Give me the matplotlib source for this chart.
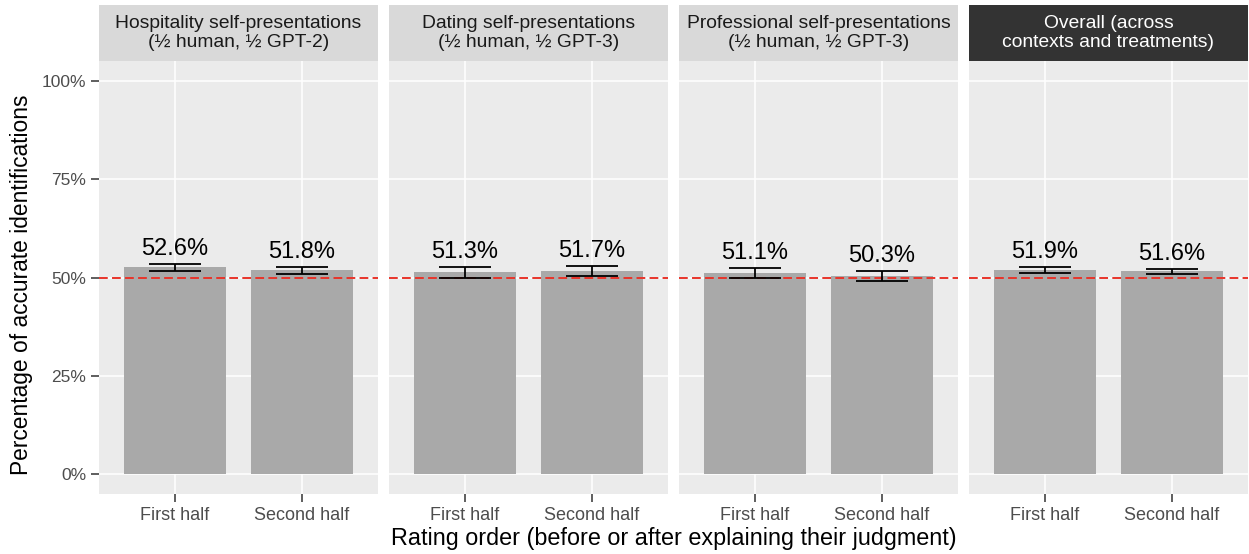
import matplotlib
matplotlib.use("Agg")
import matplotlib.pyplot as plt
import numpy as np

plt.rcParams['font.family'] = ['Liberation Sans', 'DejaVu Sans']

panels = [
    "Hospitality self-presentations\n(½ human, ½ GPT-2)",
    "Dating self-presentations\n(½ human, ½ GPT-3)",
    "Professional self-presentations\n(½ human, ½ GPT-3)",
    "Overall (across\ncontexts and treatments)",
]
categories = ["First half", "Second half"]
values = [
    [52.6, 51.8],
    [51.3, 51.7],
    [51.1, 50.3],
    [51.9, 51.6],
]
errors = [
    [0.85, 0.9],
    [1.3, 1.2],
    [1.3, 1.25],
    [0.75, 0.6],
]
yticks = [0, 25, 50, 75, 100]
ytick_labels = ["0%", "25%", "50%", "75%", "100%"]

W, H = 1249, 554
fig = plt.figure(figsize=(W / 100, H / 100), dpi=100)

panel_lefts = [99, 389, 679, 969]
panel_w = 279
ptop, pbot = 61, 494
strip_top = 5

for i, (title, vals, errs) in enumerate(zip(panels, values, errors)):
    x0 = panel_lefts[i]
    ax = fig.add_axes([x0 / W, 1 - pbot / H, panel_w / W, (pbot - ptop) / H])
    ax.set_facecolor('#EBEBEB')
    xs = np.arange(len(categories))
    ax.set_xlim(-0.6, 1.6)
    ax.set_ylim(-5, 105)
    ax.set_axisbelow(True)
    ax.grid(True, color='white', linewidth=1.1)
    for s in ax.spines.values():
        s.set_visible(False)
    ax.bar(xs, vals, width=0.8, color='#A9A9A9', zorder=2)
    ax.axhline(50, color='#E8342A', linestyle=(0, (4.5, 2.2)), linewidth=1.4, zorder=3)
    ax.errorbar(xs, vals, yerr=errs, fmt='none', ecolor='black', elinewidth=1.3,
                capsize=18.4, capthick=1.3, zorder=4)
    for x, v, e in zip(xs, vals, errs):
        ax.annotate(f"{v:.1f}%", (x, v + e), xytext=(0, 3), textcoords='offset points',
                    ha='center', va='bottom', fontsize=17, color='black', zorder=5)
    ax.set_xticks(xs)
    ax.set_xticklabels(categories, fontsize=13, color='#4D4D4D')
    ax.set_yticks(yticks)
    if i == 0:
        ax.set_yticklabels(ytick_labels, fontsize=12.5, color='#4D4D4D')
    else:
        ax.set_yticklabels([])
    ax.tick_params(axis='both', color='#333333', length=6, width=1.1, pad=3)
    if i != 0:
        ax.tick_params(axis='y', length=0)

    # strip
    sax = fig.add_axes([x0 / W, 1 - ptop / H, panel_w / W, (ptop - strip_top) / H])
    dark = (i == 3)
    sax.set_facecolor('#333333' if dark else '#D9D9D9')
    sax.set_xticks([]); sax.set_yticks([])
    for s in sax.spines.values():
        s.set_visible(False)
    sax.text(0.5, 0.5, title, ha='center', va='center', fontsize=13.9,
             color='white' if dark else '#1A1A1A', linespacing=1.15,
             transform=sax.transAxes)

fig.text((99 + 1248) / 2 / W, 1 - 538 / H,
         "Rating order (before or after explaining their judgment)",
         ha='center', va='center', fontsize=16.8)
fig.text(22 / W, 1 - 285 / H, "Percentage of accurate identifications",
         ha='center', va='center', rotation=90, fontsize=16.4)

fig.savefig("out.png", dpi=100, facecolor='white')
